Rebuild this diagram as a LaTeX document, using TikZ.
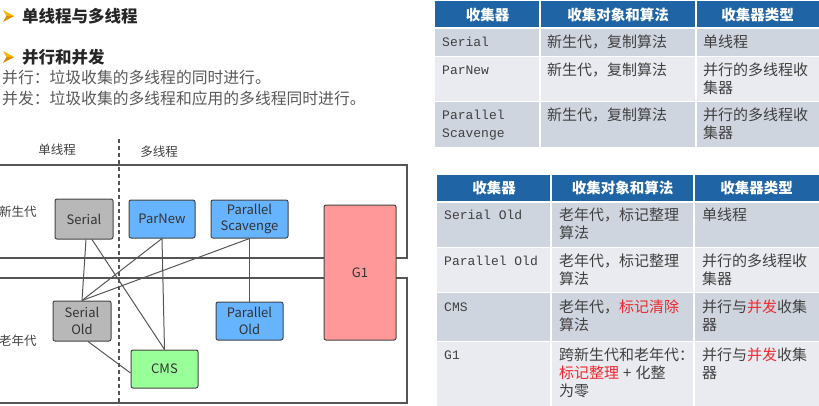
\documentclass[tikz,border=0pt]{standalone}
\usepackage{fontspec}
\setmainfont{Noto Sans CJK SC}
\newfontfamily\mono{Liberation Mono}
\usetikzlibrary{calc}

\pgfdeclarelayer{wires}
\pgfsetlayers{wires,main}

\definecolor{hdr}{HTML}{1F64A4}
\definecolor{rowa}{HTML}{CFD5DF}
\definecolor{rowb}{HTML}{E9EBF0}
\definecolor{celltxt}{HTML}{404040}
\definecolor{wire}{HTML}{555555}
\definecolor{boxline}{HTML}{444444}
\definecolor{grayfill}{HTML}{B8B8B8}
\definecolor{bluefill}{HTML}{66B3FF}
\definecolor{redfill}{HTML}{FF9999}
\definecolor{greenfill}{HTML}{99FF99}
\definecolor{hot}{HTML}{F0282D}
\definecolor{bulletA}{HTML}{F7B500}
\definecolor{bulletB}{HTML}{E08A00}
\definecolor{headtxt}{HTML}{262626}
\definecolor{bodytxt}{HTML}{595959}

\tikzset{
  gcbox/.style={draw=boxline, line width=1pt, rounded corners=2pt, inner sep=0pt,
    align=center, font=\fontsize{13}{16.5}\selectfont, text=black!80},
  wireline/.style={draw=wire, line width=1pt},
  region/.style={draw=wire, line width=1.1pt},
  genlabel/.style={font=\fontsize{12.5}{14}\selectfont, text=celltxt, inner sep=0pt},
  hcell/.style={font=\bfseries\fontsize{14.5}{16}\selectfont, text=white, inner sep=0pt},
  ccell/.style={font=\fontsize{15}{18}\selectfont, text=celltxt, inner sep=0pt, anchor=west},
  mcell/.style={font=\mono\fontsize{13}{18}\selectfont, text=celltxt, inner sep=0pt, anchor=west}
}

\begin{document}
\begin{tikzpicture}[x=1pt,y=-1pt]
\useasboundingbox (0,0) rectangle (819,405);
\clip (0,0) rectangle (819,405);

% ---------- headings and notes ----------
\foreach \yy in {16,57}{
  \fill[bulletA] (3,\yy-6) -- (14,\yy) -- (6.5,\yy) -- cycle;
  \fill[bulletB] (3,\yy+6) -- (14,\yy) -- (6.5,\yy) -- cycle;
}
\node[anchor=west, inner sep=0pt, font=\bfseries\fontsize{16.5}{18}\selectfont, text=headtxt] (t1) at (22,16) {单线程与多线程};
\node[anchor=west, inner sep=0pt, font=\bfseries\fontsize{16.5}{18}\selectfont, text=headtxt] (t2) at (22,57) {并行和并发};
\node[anchor=west, inner sep=0pt, font=\fontsize{15.8}{18}\selectfont, text=bodytxt] (n1) at (2,78) {并行：垃圾收集的多线程的同时进行。};
\node[anchor=west, inner sep=0pt, font=\fontsize{15.8}{18}\selectfont, text=bodytxt] (n2) at (2,98) {并发：垃圾收集的多线程和应用的多线程同时进行。};

% ---------- generation regions ----------
\draw[region] (-5,165) -- (407,165) -- (407,258) -- (-5,258);
\draw[region] (-5,278) -- (407,278) -- (407,403) -- (-5,403);
\draw[draw=wire, line width=1.1pt, dash pattern=on 4pt off 3pt] (119,139) -- (119,405);

\node[genlabel] (single) at (57,150) {单线程};
\node[genlabel] (multi) at (159,152) {多线程};
\node[genlabel, anchor=west] (young) at (-1,212) {新生代};
\node[genlabel, anchor=west] (old) at (-1,341) {老年代};

% ---------- collectors ----------
\node[gcbox, fill=grayfill, minimum width=58pt, minimum height=40pt] (serial) at (84,219) {Serial};
\node[gcbox, fill=bluefill, minimum width=66pt, minimum height=38pt] (parnew) at (162,219) {ParNew};
\node[gcbox, fill=bluefill, minimum width=77pt, minimum height=38pt] (pscav) at (249.5,219) {Parallel\\Scavenge};
\node[gcbox, fill=grayfill, minimum width=58pt, minimum height=40pt] (serialold) at (82,321) {Serial\\Old};
\node[gcbox, fill=greenfill, minimum width=67pt, minimum height=38pt] (cms) at (164.5,369) {CMS};
\node[gcbox, fill=bluefill, minimum width=67pt, minimum height=38pt] (parold) at (249.5,321) {Parallel\\Old};
\node[gcbox, fill=redfill, minimum width=72pt, minimum height=135pt] (g1) at (360,272.5) {G1};

% ---------- pairings (kept beneath the boxes) ----------
\begin{pgfonlayer}{wires}
\path[wireline] ($(serial.south)+(2,0)$) -- (serialold.north);
\path[wireline] ($(serial.south)+(8,0)$) -- (cms.north);
\path[wireline] (parnew.south) -- (serialold.north);
\path[wireline] (parnew.south) -- (cms.north);
\path[wireline] (pscav.south) -- (serialold.north);
\path[wireline] (pscav.south) -- (parold.north);
\path[wireline] ($(serialold.south)+(6,0)$) -- ($(cms.west)+(0,4)$);
\end{pgfonlayer}

% ---------- young collectors table ----------
\fill[hdr] (435,1) rectangle (819,27);
\fill[rowa] (435,29) rectangle (819,56);
\fill[rowb] (435,57) rectangle (819,101);
\fill[rowa] (435,102) rectangle (819,147);
\draw[white, line width=1.4pt] (540,0) -- (540,147) (696,0) -- (696,147);

\node[hcell] (ha1) at (487.5,15) {收集器};
\node[hcell] (ha2) at (618,15) {收集对象和算法};
\node[hcell] (ha3) at (757.5,15) {收集器类型};

\node[mcell] (a11) at (442,42) {Serial};
\node[ccell] (a12) at (547,42) {新生代，复制算法};
\node[ccell] (a13) at (703,42) {单线程};

\node[mcell] (a21) at (442,70) {ParNew};
\node[ccell] (a22) at (547,70) {新生代，复制算法};
\node[ccell] (a23) at (703,70) {并行的多线程收};
\node[ccell] (a23b) at (703,88) {集器};

\node[mcell] (a31) at (442,115) {Parallel};
\node[mcell] (a31b) at (442,134) {Scavenge};
\node[ccell] (a32) at (547,115) {新生代，复制算法};
\node[ccell] (a33) at (703,115) {并行的多线程收};
\node[ccell] (a33b) at (703,133) {集器};

% ---------- old collectors table ----------
\fill[hdr] (437,175) rectangle (819,201);
\fill[rowa] (437,203) rectangle (819,247);
\fill[rowb] (437,248) rectangle (819,292);
\fill[rowa] (437,293) rectangle (819,341);
\fill[rowb] (437,342) rectangle (819,410);
\draw[white, line width=1.4pt] (551,175) -- (551,410) (694,175) -- (694,410);

\node[hcell] (hb1) at (494,188) {收集器};
\node[hcell] (hb2) at (622.5,188) {收集对象和算法};
\node[hcell] (hb3) at (756.5,188) {收集器类型};

\node[mcell] (b11) at (444,215) {Serial Old};
\node[ccell] (b12) at (559,215) {老年代，标记整理};
\node[ccell] (b12b) at (559,233) {算法};
\node[ccell] (b13) at (702,215) {单线程};

\node[mcell] (b21) at (444,261) {Parallel Old};
\node[ccell] (b22) at (559,261) {老年代，标记整理};
\node[ccell] (b22b) at (559,279) {算法};
\node[ccell] (b23) at (702,261) {并行的多线程收};
\node[ccell] (b23b) at (702,279) {集器};

\node[mcell] (b31) at (444,307) {CMS};
\node[ccell] (b32) at (559,307) {老年代，\textcolor{hot}{标记清除}};
\node[ccell] (b32b) at (559,325) {算法};
\node[ccell] (b33) at (702,307) {并行与\textcolor{hot}{并发}收集};
\node[ccell] (b33b) at (702,325) {器};

\node[mcell] (b41) at (444,355) {G1};
\node[ccell] (b42) at (559,355) {跨新生代和老年代：};
\node[ccell] (b42b) at (559,373) {\textcolor{hot}{标记整理}\hspace{4pt}+\hspace{4pt}化整};
\node[ccell] (b42c) at (559,391) {为零};
\node[ccell] (b43) at (702,355) {并行与\textcolor{hot}{并发}收集};
\node[ccell] (b43b) at (702,373) {器};
\end{tikzpicture}
\end{document}
